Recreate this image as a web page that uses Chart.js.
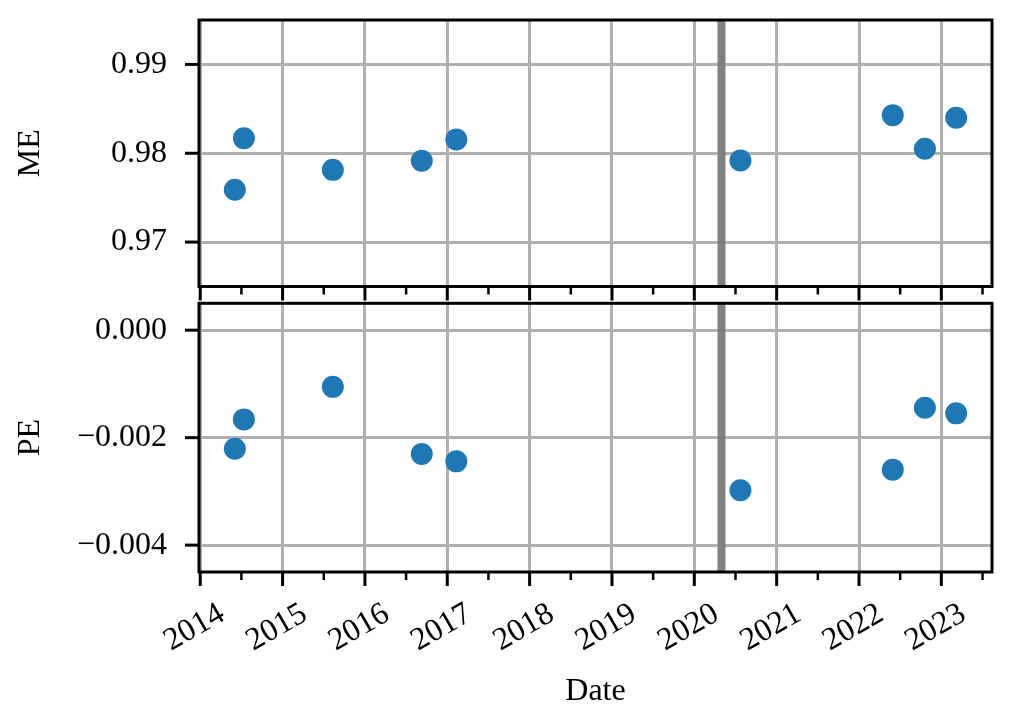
<!DOCTYPE html>
<html>
<head>
<meta charset="utf-8">
<script src="https://cdn.jsdelivr.net/npm/chart.js@4.4.1/dist/chart.umd.min.js"></script>
<style>
	html, body { margin: 0; padding: 0; background: #fff; }
	#wrap { position: relative; width: 1012px; height: 722px; }
	canvas { position: absolute; left: 0; }
	#chart-me { top: 0; }
	#chart-pe { top: 290px; }
</style>
</head>
<body>
<div id="wrap">
	<canvas id="chart-me" width="1012" height="310"></canvas>
	<canvas id="chart-pe" width="1012" height="432"></canvas>
</div>
<script>
// fechas como año decimal
var dates = [2014.42, 2014.53, 2015.61, 2016.69, 2017.11, 2020.56, 2022.41, 2022.80, 2023.18];
var meValues = [0.97589, 0.98169, 0.97813, 0.97915, 0.98154, 0.97918, 0.98429, 0.98051, 0.98400];
var peValues = [-0.002205, -0.00166, -0.001055, -0.002305, -0.002441, -0.00298, -0.002595, -0.001442, -0.001548];

var yearTicks = [2014, 2015, 2016, 2017, 2018, 2019, 2020, 2021, 2022, 2023];
var halfYearTicks = [2014.5, 2015.5, 2016.5, 2017.5, 2018.5, 2019.5, 2020.5, 2021.5, 2022.5, 2023.5];
var meTicks = [0.97, 0.98, 0.99];
var peTicks = [0, -0.002, -0.004];
var eventDates = [2020.33];

var xRange = [2013.985, 2023.615];
var meRange = [0.965, 0.995];
var peRange = [-0.0045, 0.0005];

var FONT = { family: "'Liberation Serif', 'Times New Roman', serif", size: 32 };
var GRID = '#b0b0b0';

var ejesPlugin = {
	id: 'ejes',
	beforeDatasetsDraw: function (chart) {
		var ctx = chart.ctx, area = chart.chartArea, x = chart.scales.x;
		ctx.save();
		ctx.fillStyle = '#808080';
		eventDates.forEach(function (d) {
			var px = x.getPixelForValue(d);
			ctx.fillRect(px - 4, area.top, 8, area.bottom - area.top);
		});
		ctx.restore();
	},
	afterDraw: function (chart) {
		var ctx = chart.ctx, area = chart.chartArea, x = chart.scales.x, y = chart.scales.y;
		function linea(x1, y1, x2, y2) {
			ctx.beginPath();
			ctx.moveTo(x1, y1);
			ctx.lineTo(x2, y2);
			ctx.stroke();
		}
		ctx.save();
		ctx.strokeStyle = '#000';
		ctx.lineCap = 'butt';
		ctx.lineWidth = 3;
		y.ticks.forEach(function (t) {
			var py = y.getPixelForValue(t.value);
			linea(area.left, py, area.left - 14, py);
		});
		yearTicks.forEach(function (v) {
			var px = x.getPixelForValue(v);
			linea(px, area.bottom, px, area.bottom + 14);
		});
		ctx.lineWidth = 2.5;
		halfYearTicks.forEach(function (v) {
			var px = x.getPixelForValue(v);
			if (px <= area.right) {
				linea(px, area.bottom, px, area.bottom + 8);
			}
		});
		ctx.lineWidth = 3;
		ctx.strokeRect(area.left, area.top, area.right - area.left, area.bottom - area.top);
		ctx.restore();
	}
};

function formatoME(v) {
	return v.toFixed(2);
}

function formatoPE(v) {
	if (Math.abs(v) < 1e-9) {
		return '0.000';
	}
	return (v < 0 ? '\u2212' : '') + Math.abs(v).toFixed(3);
}

function crearGrafico(canvasId, values, yRange, yTicks, yTitle, formato, padding, inferior) {
	return new Chart(document.getElementById(canvasId), {
		type: 'scatter',
		data: {
			datasets: [{
				data: dates.map(function (d, i) { return { x: d, y: values[i] }; }),
				backgroundColor: '#1f77b4',
				borderWidth: 0,
				pointRadius: 11,
				pointHoverRadius: 11,
			}],
		},
		options: {
			responsive: false,
			animation: false,
			events: [],
			layout: { padding: padding },
			plugins: { legend: { display: false }, tooltip: { enabled: false } },
			scales: {
				x: {
					type: 'linear',
					min: xRange[0],
					max: xRange[1],
					afterBuildTicks: function (s) {
						s.ticks = yearTicks.map(function (v) { return { value: v }; });
					},
					afterFit: function (s) {
						s.height = inferior ? 150 : 0;
						s.paddingLeft = 0;
						s.paddingRight = 0;
					},
					grid: { color: GRID, lineWidth: 3, drawTicks: true, tickLength: 20, tickColor: 'rgba(0,0,0,0)' },
					border: { display: false },
					ticks: {
						display: inferior,
						autoSkip: false,
						minRotation: 30,
						maxRotation: 30,
						padding: 3,
						labelOffset: 22,
						color: '#000',
						font: FONT,
						callback: function (v) { return String(v); },
					},
					title: {
						display: inferior,
						text: 'Date',
						color: '#000',
						font: FONT,
						padding: { top: 0, bottom: 11 },
					},
				},
				y: {
					min: yRange[0],
					max: yRange[1],
					afterBuildTicks: function (s) {
						s.ticks = yTicks.map(function (v) { return { value: v }; });
					},
					afterFit: function (s) {
						s.width = 199;
						s.paddingTop = 0;
						s.paddingBottom = 0;
					},
					grid: { color: GRID, lineWidth: 3, drawTicks: true, tickLength: 30, tickColor: 'rgba(0,0,0,0)' },
					border: { display: false },
					ticks: {
						padding: 2,
						color: '#000',
						font: FONT,
						callback: formato,
					},
					title: {
						display: true,
						text: yTitle,
						color: '#000',
						font: FONT,
						padding: { top: 11, bottom: 0 },
					},
				},
			},
		},
		plugins: [ejesPlugin],
	});
}

crearGrafico('chart-me', meValues, meRange, meTicks, 'ME', formatoME,
	{ top: 20, right: 20, bottom: 23.5, left: 0 }, false);
crearGrafico('chart-pe', peValues, peRange, peTicks, 'PE', formatoPE,
	{ top: 13.3, right: 20, bottom: 0, left: 0 }, true);
</script>
</body>
</html>
